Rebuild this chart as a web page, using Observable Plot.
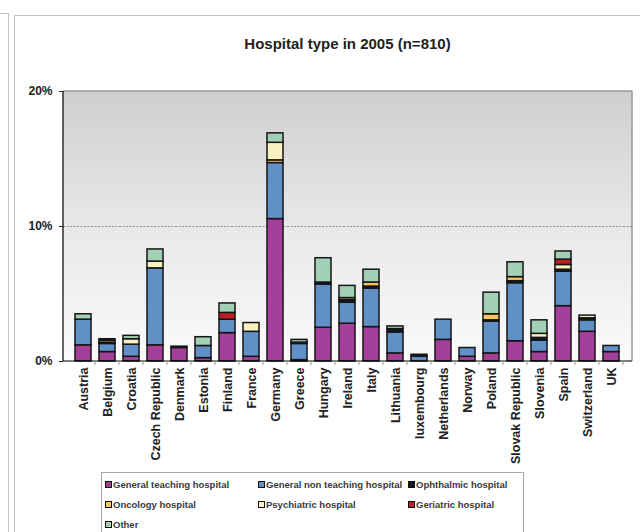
<!DOCTYPE html>
<html>
<head>
<meta charset="utf-8">
<script src="https://cdn.jsdelivr.net/npm/d3@7"></script>
<script src="https://cdn.jsdelivr.net/npm/@observablehq/plot@0.6"></script>
<style>
  body { margin: 0; background: #fff; font-family: "Liberation Sans", Arial, sans-serif; }
  #wrap { position: relative; width: 640px; height: 532px; overflow: hidden; background: #fff; }
  .ln { position: absolute; border-color: #c4c4c4; border-style: solid; border-width: 0; }
  #title { position: absolute; left: 63px; width: 569px; top: 35px; text-align: center;
           font: bold 15px "Liberation Sans", Arial, sans-serif; color: #222; }
  #legend { position: absolute; left: 101px; top: 472px; width: 421px; height: 80px;
            border: 1px solid #a8a8a8; background: #fff; }
  .item { position: absolute; font: bold 9.5px "Liberation Sans", Arial, sans-serif; color: #3a3a3a;
          white-space: nowrap; line-height: 10px; }
  .sw { display: inline-block; width: 5px; height: 5px; border: 1px solid #111; margin-right: 1px;
        vertical-align: 0px; }
  #plot svg { position: absolute; left: 0; top: 0; background: transparent; }
  #plot g[aria-label$="tick label"] text { font-weight: bold; }
</style>
</head>
<body>
<div id="wrap">
  <div class="ln" style="left:0;top:13px;width:8px;height:530px;border-top-width:1px;border-right-width:1px;"></div>
  <div class="ln" style="left:14px;top:15px;width:640px;height:530px;border-top-width:1px;border-left-width:1px;"></div>
  <div id="plot"></div>
  <div id="title">Hospital type in 2005 (n=810)</div>
  <div id="legend"></div>
</div>
<script>
const countries = ["Austria","Belgium","Croatia","Czech Republic","Denmark","Estonia","Finland","France","Germany","Greece","Hungary","Ireland","Italy","Lithuania","luxembourg","Netherlands","Norway","Poland","Slovak Republic","Slovenia","Spain","Switzerland","UK"];

const types = ["General teaching hospital","General non teaching hospital","Ophthalmic hospital","Oncology hospital","Psychiatric hospital","Geriatric hospital","Other"];
const typeColors = ["#a5409a","#6090c6","#0e1a28","#fcc45c","#f9f1c0","#bd1f26","#a2d0b6"];

// percentages of hospitals (n=810)
const generalTeaching    = [1.2, 0.7, 0.35, 1.2, 1.0, 0.25, 2.1, 0.35, 10.55, 0.1, 2.5, 2.8, 2.55, 0.6, 0, 1.6, 0.35, 0.6, 1.5, 0.7, 4.1, 2.2, 0.7];
const generalNonTeaching = [1.9, 0.6, 0.9, 5.7, 0, 0.9, 1.0, 1.85, 4.15, 1.2, 3.2, 1.55, 2.85, 1.55, 0.35, 1.5, 0.65, 2.35, 4.3, 0.85, 2.55, 0.85, 0.45];
const ophthalmic         = [0, 0.1, 0, 0, 0.1, 0, 0, 0, 0, 0.1, 0.15, 0.2, 0.15, 0.25, 0.15, 0, 0, 0.1, 0.15, 0.2, 0.15, 0.15, 0];
const oncology           = [0, 0.15, 0, 0, 0, 0, 0, 0, 0.2, 0, 0, 0.15, 0.3, 0, 0, 0, 0, 0.45, 0.3, 0, 0, 0, 0];
const psychiatric        = [0, 0, 0.4, 0.5, 0, 0, 0, 0.65, 1.3, 0, 0, 0, 0, 0, 0, 0, 0, 0, 0, 0.3, 0.35, 0.2, 0];
const geriatric          = [0, 0, 0, 0, 0, 0, 0.5, 0, 0, 0, 0, 0, 0, 0, 0, 0, 0, 0, 0, 0, 0.4, 0, 0];
const other              = [0.4, 0.1, 0.25, 0.9, 0, 0.65, 0.7, 0, 0.7, 0.2, 1.8, 0.9, 0.95, 0.2, 0, 0, 0, 1.6, 1.1, 1.0, 0.6, 0, 0];

const yTicks = [0, 10, 20];

const series = [generalTeaching, generalNonTeaching, ophthalmic, oncology, psychiatric, geriatric, other];
const rows = [];
types.forEach((t, i) => countries.forEach((c, j) => {
  if (series[i][j] > 0) rows.push({country: c, type: t, value: series[i][j]});
}));

function background(index, scales, values, dim) {
  const ns = "http://www.w3.org/2000/svg";
  const g = document.createElementNS(ns, "g");
  const x0 = dim.marginLeft, x1 = dim.width - dim.marginRight;
  const y0 = scales.y(20), y1 = scales.y(0);
  g.innerHTML = `<defs><linearGradient id="bgGrad" x1="0" y1="0" x2="0" y2="1">
      <stop offset="0" stop-color="#cfcfcf"/><stop offset="0.5" stop-color="#e8e8e8"/><stop offset="1" stop-color="#fafafa"/>
    </linearGradient></defs>
    <rect x="${x0}" y="${y0}" width="${x1 - x0}" height="${y1 - y0}" fill="url(#bgGrad)"/>
    <line x1="${x0}" x2="${x1}" y1="${y0}" y2="${y0}" stroke="#9a9a9a" stroke-width="1.5"/>
    <line x1="${x1}" x2="${x1}" y1="${y0}" y2="${y1}" stroke="#9a9a9a" stroke-width="1.5"/>`;
  return g;
}

function axisLines(index, scales, values, dim) {
  const ns = "http://www.w3.org/2000/svg";
  const g = document.createElementNS(ns, "g");
  const x = scales.x;
  const bw = x.bandwidth(), st = x.step();
  const y0 = scales.y(20), y1 = scales.y(0);
  const x0 = dim.marginLeft, x1 = dim.width - dim.marginRight;
  let s = `<line x1="${x0}" x2="${x0}" y1="${y0}" y2="${y1}" stroke="#000" stroke-width="1.2"/>
           <line x1="${x0}" x2="${x1}" y1="${y1}" y2="${y1}" stroke="#000" stroke-width="1.2"/>`;
  countries.forEach(c => {
    const bx = x(c) + bw + (st - bw) / 2;
    s += `<line x1="${bx}" x2="${bx}" y1="${y1}" y2="${y1 + 4}" stroke="#999" stroke-width="1"/>`;
  });
  g.innerHTML = s;
  return g;
}

const chart = Plot.plot({
  width: 640,
  height: 532,
  marginLeft: 63,
  marginRight: 8,
  marginTop: 91,
  marginBottom: 171,
  style: {fontFamily: "'Liberation Sans', Arial, sans-serif", background: "transparent", color: "#222"},
  x: {type: "band", domain: countries, paddingInner: 0.32, paddingOuter: 0.16, label: null},
  y: {domain: [0, 20], label: null},
  color: {domain: types, range: typeColors},
  marks: [
    background,
    Plot.ruleY([10], {stroke: "#8c8c8c", strokeWidth: 1, strokeDasharray: "2,1.5"}),
    Plot.barY(rows, {x: "country", y: "value", fill: "type", order: types, stroke: "#151515", strokeWidth: 1.5}),
    axisLines,
    Plot.axisY({ticks: yTicks, tickFormat: d => d + "%", tickSize: 4, tickPadding: 7, fontSize: 12, fontWeight: "bold", label: null}),
    Plot.axisX({tickRotate: -90, tickSize: 0, tickPadding: 6, fontSize: 12.5, fontWeight: "bold", label: null})
  ]
});
document.getElementById("plot").appendChild(chart);

// legend
const legendPos = [[3, 7], [156, 7], [306, 7], [3, 27], [156, 27], [306, 27], [3, 47]];
const legend = document.getElementById("legend");
types.forEach((t, i) => {
  const d = document.createElement("div");
  d.className = "item";
  d.style.left = legendPos[i][0] + "px";
  d.style.top = legendPos[i][1] + "px";
  d.innerHTML = `<span class="sw" style="background:${typeColors[i]}"></span>${t}`;
  legend.appendChild(d);
});
</script>
</body>
</html>
